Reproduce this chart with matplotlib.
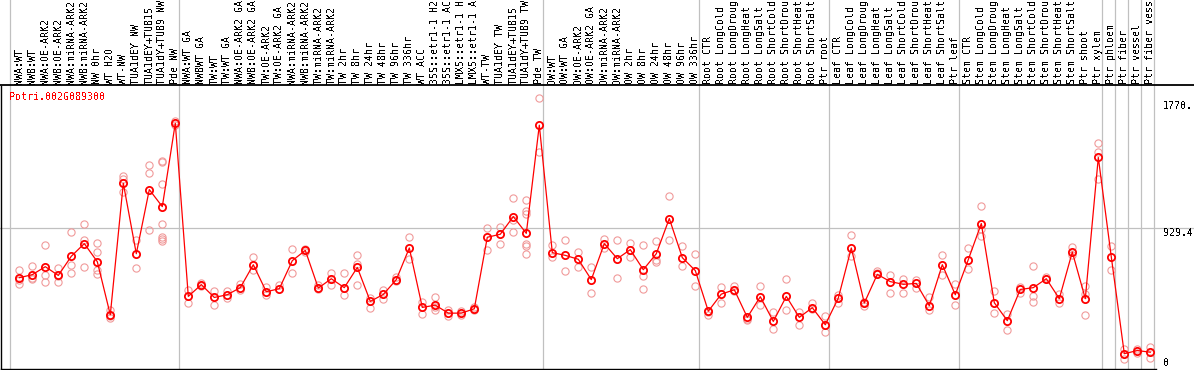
import matplotlib
matplotlib.use("Agg")
import matplotlib.pyplot as plt
from matplotlib.lines import Line2D
from matplotlib.transforms import blended_transform_factory

plt.rcParams["text.antialiased"] = False

# sample names (truncated to 14 chars as in the source)
labels = [
    "NWA:WT", "NWB:WT", "NWA:OE-ARK2", "NWB:OE-ARK2", "NWA:miRNA-ARK2", "NWB:miRNA-ARK2",
    "NW 0hr", "WT H2O", "WT-NW", "TUA1dEY NW", "TUA1dEY+TUB15", "TUA1dY+TUB9 NW", "Pde NW",
    "NWA:WT GA", "NWBWT GA", "TW:WT", "TW:WT GA", "NWA:OE-ARK2 GA", "NWB:OE-ARK2 GA",
    "TW:OE-ARK2", "TW:OE-ARK2 GA", "NWA:miRNA-ARK2", "NWB:miRNA-ARK2", "TW:miRNA-ARK2",
    "TW:miRNA-ARK2", "TW 2hr", "TW 8hr", "TW 24hr", "TW 48hr", "TW 96hr", "TW 336hr",
    "WT ACC", "35S::etr1-1 H2", "35S::etr1-1 AC", "LMX5::etr1-1 H", "LMX5::etr1-1 A",
    "WT-TW", "TUA1dEY TW", "TUA1dEY+TUB15", "TUA1dY+TUB9 TW", "Pde TW",
    "OW:WT", "OW:WT GA", "OW:OE-ARK2", "OW:OE-ARK2 GA", "OW:miRNA-ARK2", "OW:miRNA-ARK2",
    "OW 2hr", "OW 8hr", "OW 24hr", "OW 48hr", "OW 96hr", "OW 336hr",
    "Root CTR", "Root LongCold", "Root LongDroug", "Root LongHeat", "Root LongSalt",
    "Root ShortCold", "Root ShortDrou", "Root ShortHeat", "Root ShortSalt", "Ptr root",
    "Leaf CTR", "Leaf LongCold", "Leaf LongDroug", "Leaf LongHeat", "Leaf LongSalt",
    "Leaf ShortCold", "Leaf ShortDrou", "Leaf ShortHeat", "Leaf ShortSalt", "Ptr leaf",
    "Stem CTR", "Stem LongCold", "Stem LongDroug", "Stem LongHeat", "Stem LongSalt",
    "Stem ShortCold", "Stem ShortDrou", "Stem ShortHeat", "Stem ShortSalt", "Ptr shoot",
    "Ptr xylem", "Ptr phloem", "Ptr fiber", "Ptr vessel", "Ptr fiber vess",
]

# first sample index of each group (last entry = end)
group_starts = [0, 13, 41, 53, 63, 73, 84, 85, 86, 87, 88]

means = [
    602, 622, 675, 617, 744, 828, 708, 356, 1228, 761, 1186, 1073, 1626,
    478, 556, 471, 489, 536, 688, 509, 529, 715, 783, 533, 595, 536, 670, 445,
    491, 589, 799, 405, 420, 367, 367, 396, 870, 890, 1007, 896, 1613,
    768, 750, 724, 589, 828, 728, 788, 655, 761, 994, 735, 649,
    380, 493, 522, 339, 476, 312, 478, 339, 403, 290,
    467, 799, 434, 624, 576, 558, 564, 416, 688, 489,
    722, 961, 436, 317, 524, 536, 595, 463, 772, 463, 1399,
    739, 98, 119, 108,
]

replicates = [
    [655, 584, 558], [677, 599, 595], [817, 622, 573], [664, 615, 573],
    [903, 688, 635], [961, 854, 675], [834, 770, 651, 624], [385, 347, 337],
    [1275, 1253, 1170], [850, 669], [1348, 1299, 916],
    [1374, 1370, 1226, 961, 872, 861, 843], [1640, 1615],
    [518, 434], [566, 550], [516, 423], [511, 467], [560, 518], [739, 651],
    [540, 489], [551], [795, 635], [790, 775], [551, 524], [633, 553],
    [631, 489], [750, 695, 551], [469, 400], [518, 458], [606, 580],
    [870, 728], [443, 360], [471, 407, 390], [385, 347], [378, 354],
    [405, 385], [934, 788], [941, 828], [1127, 983, 907],
    [1115, 1042, 1027, 828, 812, 761], [1790, 1432],
    [821, 739], [854, 649], [770, 675], [672, 500], [858, 799], [854, 602],
    [834, 739], [817, 613, 529], [843, 722, 706], [1146, 854], [810, 679],
    [757, 549],
    [352, 375], [538, 436], [546, 515], [319, 330], [549, 423], [376, 264],
    [595, 390], [376, 290], [434, 395], [345, 244],
    [489, 436], [888, 746], [412, 440], [646, 630], [617, 498], [591, 503],
    [586, 533], [473, 385], [755, 619], [558, 423],
    [797, 662], [1080, 927, 878], [516, 370], [358, 252], [500, 540],
    [677, 483, 440], [606, 590], [496, 436], [805, 750], [546, 496, 356],
    [1494, 1436, 1259],
    [810, 655], [128, 64], [128, 102], [141, 68],
]

gene = "Potri.002G089300"
y_mid = 929.4
y_max_label = "1770."
y_max_value = 1770.8

W, H = 1194, 370
FONT = "DejaVu Sans Mono"
FS = 7.2
RED = "#ff0000"
PINK = "#f09a9a"
GRID = "#c0c0c0"


def fx(px):
    return px / W


def fy(py):
    return 1 - py / H


fig = plt.figure(figsize=(W / 100, H / 100), dpi=100)
ax_top, ax_bot, ax_l, ax_r = 86, 368.5, 1, 1155.5
ax = fig.add_axes([fx(ax_l), fy(ax_bot), fx(ax_r) - fx(ax_l), fy(ax_top) - fy(ax_bot)])

x0 = -1.408
ax.set_xlim(x0, x0 + (ax_r - ax_l) / 13)
ax.set_ylim(0, y_mid * (ax_bot - ax_top) / (ax_bot - 228.3))
ax.set_xticks([])
ax.set_yticks([])
for side in ("top", "right"):
    ax.spines[side].set_visible(False)
for side in ("left", "bottom"):
    ax.spines[side].set_color("black")
    ax.spines[side].set_linewidth(1.0)

ax_h = ax_bot - ax_top
for b in group_starts:
    ax.axvline(b - 0.68, ymin=-1.5 / ax_h, ymax=ax_bot / ax_h, color=GRID,
               linewidth=0.9, clip_on=False, zorder=0)
ax.axhline(y_mid, xmin=-1 / (ax_r - ax_l), xmax=(W - ax_l) / (ax_r - ax_l),
           color=GRID, linewidth=0.9, clip_on=False, zorder=0)

# header line
fig.add_artist(Line2D([0, 1], [fy(85.3), fy(85.3)], transform=fig.transFigure,
                      color="black", linewidth=1.3))

xs = list(range(len(means)))
rx = [k for k, rs in enumerate(replicates) for _ in rs]
ry = [v for rs in replicates for v in rs]
ax.plot(rx, ry, "o", ms=5.2, mfc="none", mec=PINK, mew=0.8, zorder=2, clip_on=False)
ax.plot(xs, means, "-", color=RED, linewidth=0.9, zorder=3)
ax.plot(xs, means, "o", ms=5.2, mfc="none", mec=RED, mew=1.3, zorder=4)

hdr = blended_transform_factory(ax.transData, fig.transFigure)
for k, lab in enumerate(labels):
    ax.text(k, fy(84), lab, transform=hdr, rotation=90, ha="center", va="bottom",
            family=FONT, fontsize=FS, color="black", clip_on=False)

fig.text(fx(9), fy(97), gene, ha="left", va="center", family=FONT, fontsize=FS, color=RED)

rt = blended_transform_factory(fig.transFigure, ax.transData)
ax.text(fx(1163), y_max_value, y_max_label, transform=rt, ha="left", va="top",
        family=FONT, fontsize=FS, clip_on=False)
ax.text(fx(1163), y_mid, f"{y_mid:.1f}", transform=rt, ha="left", va="top",
        family=FONT, fontsize=FS, clip_on=False)
ax.text(fx(1163), 0, "0", transform=rt, ha="left", va="bottom",
        family=FONT, fontsize=FS, clip_on=False)

fig.savefig("out.png", dpi=100)
